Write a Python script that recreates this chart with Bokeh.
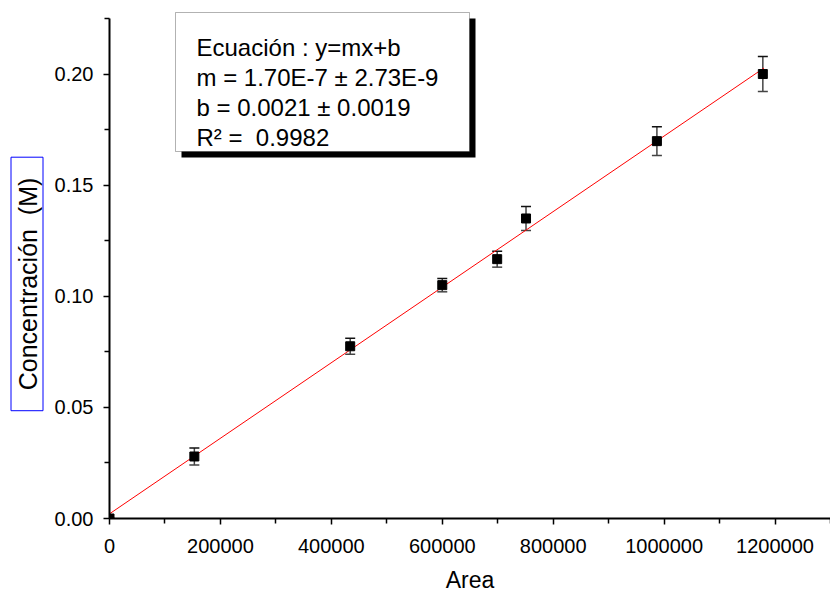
from math import pi
from bokeh.plotting import figure
from bokeh.layouts import row
from bokeh.core.properties import value
from bokeh.models import (ColumnDataSource, Whisker, TeeHead, Label, BoxAnnotation,
                          Range1d, FixedTicker, NumeralTickFormatter)
from bokeh.embed import file_html
from bokeh.resources import INLINE

# ---- data ----
area = [0, 153000, 434000, 600000, 699000, 751000, 987000, 1178000]
conc = [0.0, 0.0279, 0.0775, 0.105, 0.1167, 0.135, 0.1698, 0.200]
err = [0.0, 0.0038, 0.0036, 0.0030, 0.0036, 0.0054, 0.0065, 0.0079]
slope = 1.70e-7
intercept = 0.0021
fit_x = [0, 1180000]
fit_y = [slope * v + intercept for v in fit_x]
x_ticks = [0, 200000, 400000, 600000, 800000, 1000000, 1200000]
x_minor = [100000, 300000, 500000, 700000, 900000, 1100000, 1300000]
y_ticks = [0.0, 0.05, 0.10, 0.15, 0.20]
y_minor = [0.025, 0.075, 0.125, 0.175, 0.225]
legend_lines = ["Ecuación : y=mx+b", "m = 1.70E-7 ± 2.73E-9",
                "b = 0.0021 ± 0.0019", "R² =\u00a0\u00a00.9982"]
y_title = "Concentración\u00a0\u00a0(M)"
x_title = "Area"
FONT = "Liberation Sans"

W, H = 830, 595
LEFT_W = 50          # width of the strip holding the y title
FL, FB, FT = 109, 519, 18   # frame left, x-axis row, y-axis top (canvas px)

src = ColumnDataSource(dict(x=area, y=conc,
                            lo=[c - e for c, e in zip(conc, err)],
                            hi=[c + e for c, e in zip(conc, err)]))

# ---- left strip with the boxed y title (frame aligned with main frame: 0..FB px) ----
t = figure(width=LEFT_W, height=H, output_backend="svg", toolbar_location=None,
           x_range=Range1d(0, LEFT_W), y_range=Range1d(FB, 0),
           min_border_left=0, min_border_right=0, min_border_top=0,
           min_border_bottom=H - FB, x_axis_location=None, y_axis_location=None)
t.outline_line_color = None
t.xgrid.visible = False
t.ygrid.visible = False
t.rect(x=[26.5], y=[284], width=[32], height=[254], fill_color=None,
       line_color="blue", line_width=1)
t.text(x=[27], y=[284], text=[y_title], angle=pi / 2, text_align="center",
       text_baseline="middle", text_font=value(FONT), text_font_size="25px",
       text_color="black")

# ---- main plot ----
y_end = 0.225 * (FB - 0) / (FB - FT)
p = figure(width=W - LEFT_W, height=H, output_backend="svg", toolbar_location=None,
           x_range=Range1d(0, 1300000), y_range=Range1d(0, y_end),
           min_border_left=FL - LEFT_W, min_border_right=0, min_border_top=0,
           min_border_bottom=H - FB)
p.outline_line_color = None
p.xgrid.visible = False
p.ygrid.visible = False

for ax in (p.xaxis[0], p.yaxis[0]):
    ax.axis_line_width = 2
    ax.major_tick_line_width = 1.5
    ax.minor_tick_line_width = 1.5
    ax.major_tick_in = 0
    ax.major_tick_out = 6
    ax.minor_tick_in = 0
    ax.minor_tick_out = 5
    ax.major_label_text_font = FONT
    ax.major_label_text_font_size = "20px"
    ax.major_label_text_color = "black"

p.yaxis.bounds = (0, 0.225)
p.xaxis.ticker = FixedTicker(ticks=x_ticks, minor_ticks=x_minor)
p.yaxis.ticker = FixedTicker(ticks=y_ticks, minor_ticks=y_minor)
p.xaxis.formatter = NumeralTickFormatter(format="0")
p.yaxis.formatter = NumeralTickFormatter(format="0.00")
p.xaxis.major_label_standoff = 14
p.yaxis.major_label_standoff = 10
p.xaxis.axis_label = x_title
p.xaxis.axis_label_text_font = FONT
p.xaxis.axis_label_text_font_size = "23px"
p.xaxis.axis_label_text_font_style = "normal"
p.xaxis.axis_label_text_color = "black"
p.xaxis.axis_label_standoff = 11

# fit line
p.line(fit_x, fit_y, line_color="red", line_width=1)

# error bars
w = Whisker(source=src, base="x", lower="lo", upper="hi", line_color="#444444",
            line_width=1.5,
            lower_head=TeeHead(size=10, line_color="#444444", line_width=1.5),
            upper_head=TeeHead(size=10, line_color="#111111", line_width=1.5))
p.add_layout(w)

# markers
p.scatter("x", "y", source=src, marker="square", size=9, fill_color="black",
          line_color="black")

# legend box with shadow (screen units: relative to frame bottom-left)
def sx(cx):
    return cx - FL
def sy(cy):
    return FB - cy

def box(l, r, tp, b, **kw):
    return BoxAnnotation(left=sx(l), right=sx(r), top=sy(tp), bottom=sy(b),
                         left_units="screen", right_units="screen",
                         top_units="screen", bottom_units="screen", **kw)

p.add_layout(box(181, 475, 19, 158, fill_color="black", fill_alpha=1,
                 line_color=None))
p.add_layout(box(175, 469, 13, 152, fill_color="white", fill_alpha=1,
                 line_color="black", line_width=1))

baselines = [48, 78, 108, 138]
for txt, b in zip(legend_lines, baselines):
    p.add_layout(Label(x=sx(196), y=sy(b), x_units="screen", y_units="screen",
                       text=txt, text_font=FONT, text_font_size="24px",
                       text_baseline="alphabetic", text_align="left",
                       text_color="black"))

layout = row(t, p, spacing=0)
open("out.html", "w").write(file_html(layout, INLINE))
